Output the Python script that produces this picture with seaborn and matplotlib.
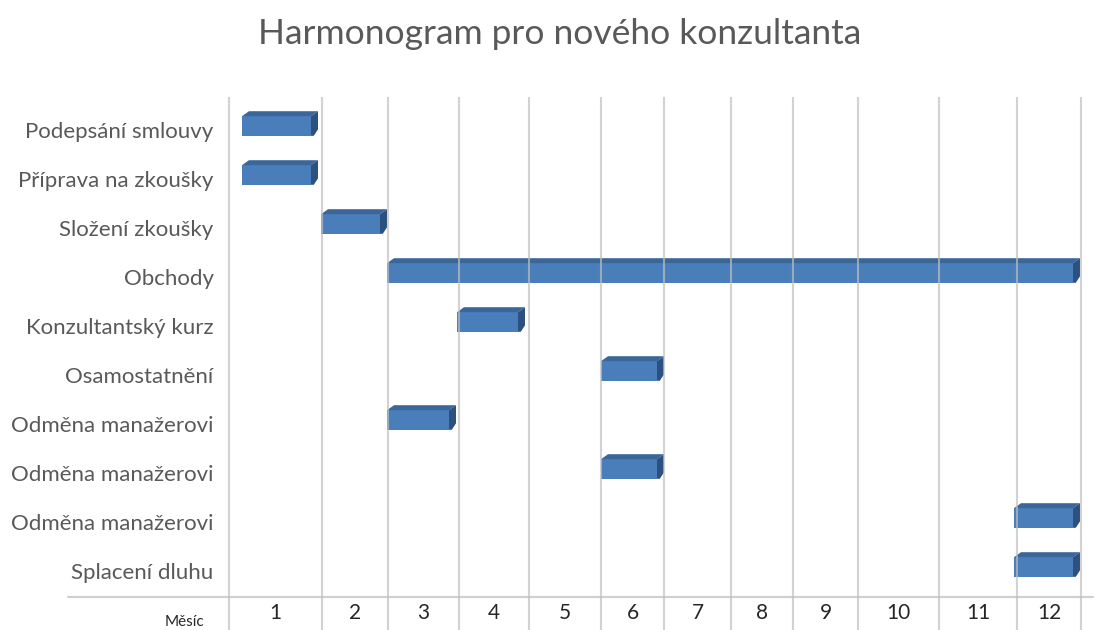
import numpy as np
import pandas as pd
import matplotlib
matplotlib.use("Agg")
import matplotlib.pyplot as plt
import seaborn as sns
from matplotlib.patches import Polygon
from matplotlib.transforms import blended_transform_factory

# ---------------- data ----------------
tasks = ["Podepsání smlouvy", "Příprava na zkoušky", "Složení zkoušky", "Obchody",
         "Konzultantský kurz", "Osamostatnění", "Odměna manažerovi",
         "Odměna manažerovi", "Odměna manažerovi", "Splacení dluhu"]
# start / end on the timeline axis (same units as month_edges)
starts = [13, 13, 92, 158, 228, 372, 158, 372, 785, 785]
ends = [82, 82, 151, 844, 289, 428, 220, 428, 844, 844]
months = ["1", "2", "3", "4", "5", "6", "7", "8", "9", "10", "11", "12"]
month_edges = [0, 93, 159, 230, 300, 372, 435, 502, 564, 629, 710, 788, 852]
axis_label = "Měsíc"
title = "Harmonogram pro nového konzultanta"

# ---------------- style ----------------
sns.set_theme(style="white")
plt.rcParams["font.family"] = ["Lato", "DejaVu Sans"]
TXT = "#595959"
FRONT = "#4a7ebb"
TOP = "#3b6699"
SIDE = "#2c5180"
GRID = "#bfbfbf"

W, H = 1095, 630
fig = plt.figure(figsize=(W / 100, H / 100), dpi=100)
ax_l, ax_r, ax_t, ax_b = 229, 1081, 97, 597
ax = fig.add_axes([ax_l / W, (H - ax_b) / H, (ax_r - ax_l) / W, (ax_b - ax_t) / H])

ids = [f"r{i}" for i in range(len(tasks))]
df = pd.DataFrame({"row": ids, "dur": np.array(ends) - np.array(starts)})
bar_h = 0.40
sns.barplot(data=df, y="row", x="dur", order=ids, left=starts, color=FRONT,
            saturation=1, width=bar_h, errorbar=None, linewidth=0, ax=ax, zorder=2)

row_px = 49.0
ax.set_xlim(month_edges[0], month_edges[-1])
ax.set_ylim(9 + 30 / row_px, -29 / row_px)

# 3D faces (depth in pixels converted to data units)
px_x = (month_edges[-1] - month_edges[0]) / (ax_r - ax_l)
dx = 7 * px_x
dy = 5 / row_px
for i, (s, e) in enumerate(zip(starts, ends)):
    yt = i - bar_h / 2
    yb = i + bar_h / 2
    top = Polygon([(s, yt), (e, yt), (e + dx, yt - dy), (s + dx, yt - dy)],
                  closed=True, facecolor=TOP, edgecolor="none", zorder=2)
    side = Polygon([(e, yt), (e + dx, yt - dy), (e + dx, yb - dy - 0.03), (e + dx * 0.4, yb), (e, yb)],
                   closed=True, facecolor=SIDE, edgecolor="none", zorder=2)
    ax.add_patch(top)
    ax.add_patch(side)

# vertical grid lines extending into the month table
trans = blended_transform_factory(ax.transData, ax.transAxes)
ext = (H - ax_b + 2) / (ax_b - ax_t)
for xe in month_edges:
    ax.plot([xe, xe], [-ext, 1], transform=trans, color=GRID, lw=1.5,
            alpha=0.7, clip_on=False, zorder=3, solid_capstyle="butt")

# bottom horizontal rule
x0 = (68 - ax_l) / (ax_r - ax_l)
x1 = (1093 - ax_l) / (ax_r - ax_l)
ax.plot([x0, x1], [0, 0], transform=ax.transAxes, color=GRID, lw=1.5,
        alpha=0.75, clip_on=False, zorder=3)

# month labels
for k, m in enumerate(months):
    mid = (month_edges[k] + month_edges[k + 1]) / 2
    ax.text(mid, -(619 - ax_b) / (ax_b - ax_t), m, transform=trans, ha="center",
            va="baseline", fontsize=15, color="#262626")
ax.text((204 - ax_l) / (ax_r - ax_l), -(626 - ax_b) / (ax_b - ax_t), axis_label,
        transform=ax.transAxes, ha="right", va="baseline", fontsize=11, color="#262626")

# y labels
ax.set_yticks(np.arange(len(tasks)) + 4 / row_px)
ax.set_yticklabels(tasks, fontsize=16, color=TXT)
ax.tick_params(axis="y", length=0, pad=11)
ax.set_xticks([])
ax.set_xlabel("")
ax.set_ylabel("")
for sp in ax.spines.values():
    sp.set_visible(False)

fig.text(560 / W, (H - 44) / H, title, ha="center", va="baseline",
         fontsize=25.5, color=TXT)

fig.savefig("out.png", dpi=100)
